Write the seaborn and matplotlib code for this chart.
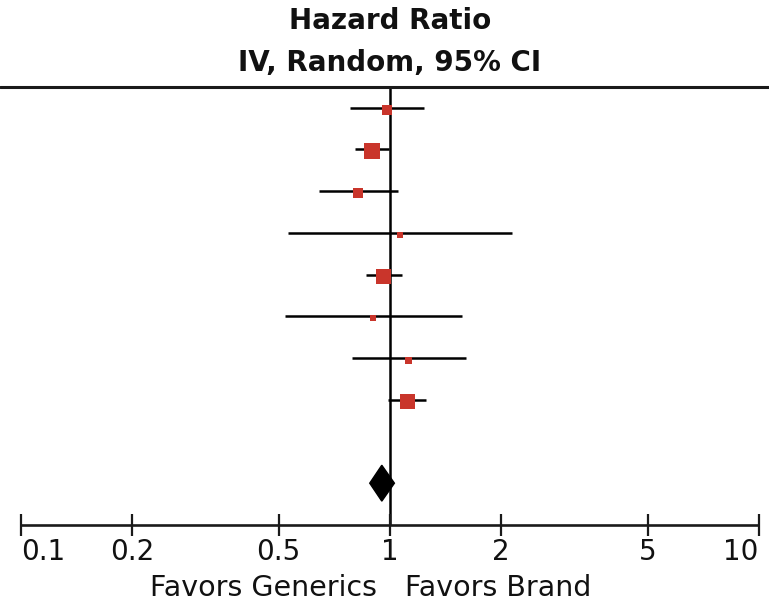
import numpy as np
import pandas as pd
import seaborn as sns
import matplotlib
matplotlib.use("Agg")
import matplotlib.pyplot as plt
from matplotlib.patches import Polygon

# ---- data ----
studies = [f"Study {i+1}" for i in range(8)]
hr = [0.985, 0.894, 0.821, 1.065, 0.964, 0.903, 1.127, 1.115]
ci_low = [0.782, 0.806, 0.643, 0.531, 0.860, 0.520, 0.790, 0.991]
ci_high = [1.237, 0.995, 1.054, 2.146, 1.083, 1.567, 1.611, 1.258]
weight = [10, 16, 10, 6, 15, 6, 7, 15]
pooled = [0.883, 0.952, 1.030]  # low, estimate, high
tick_values = [0.1, 0.2, 0.5, 1, 2, 5, 10]
tick_labels = ["0.1", "0.2", "0.5", "1", "2", "5", "10"]
title_lines = ["Hazard Ratio", "IV, Random, 95% CI"]
favors = ["Favors Generics", "Favors Brand"]

sns.set_theme(style="white")
plt.rcParams["font.family"] = ["DejaVu Sans"]

df = pd.DataFrame({"study": studies, "hr": hr, "lo": ci_low, "hi": ci_high,
                   "w": weight})
df["row"] = np.arange(len(df))
pooled_row = len(df) + 1
axis_row = pooled_row + 1

fig = plt.figure(figsize=(7.69, 6.03), dpi=100)
ax = fig.add_axes([0, 0, 1, 1])
ax.set_xscale("log")
ax.set_xlim(0.0879, 10.664)
ax.set_ylim(11.871, -2.578)
ax.axis("off")

red = "#c9352b"
# CI lines
ax.hlines(df["row"], df["lo"], df["hi"], color="black", lw=1.8, zorder=2)
# squares
sns.scatterplot(data=df, x="hr", y=df["row"] + 0.05, marker="s", color=red,
                s=(df["w"] * 0.72) ** 2, linewidth=0, ax=ax, zorder=3,
                legend=False)
# line of no effect
ax.vlines(1, -0.5, axis_row, color="black", lw=1.8, zorder=1)
# top line
ax.axhline(-0.5, color="#1a1a1a", lw=2.2, zorder=1)
# pooled diamond
lo, est, hi = pooled
h = 0.43
ax.add_patch(Polygon([(lo, pooled_row), (est, pooled_row - h), (hi, pooled_row),
                      (est, pooled_row + h)], closed=True, color="black",
                     zorder=4))
# bottom axis
ax.hlines(axis_row, tick_values[0], tick_values[-1], color="#1a1a1a", lw=1.9)
ax.vlines(tick_values, axis_row - 0.26, axis_row + 0.26, color="#1a1a1a", lw=1.6)
n = len(tick_values)
for i, (v, lab) in enumerate(zip(tick_values, tick_labels)):
    ha = "left" if i == 0 else ("right" if i == n - 1 else "center")
    ax.text(v, axis_row + 0.65, lab, ha=ha, va="center", fontsize=20,
            color="#111111")
ax.annotate(favors[0], xy=(1, axis_row + 1.51), xytext=(-13, 0),
            textcoords="offset pixels", ha="right", va="center", fontsize=20.5,
            color="#111111")
ax.annotate(favors[1], xy=(1, axis_row + 1.51), xytext=(15, 0),
            textcoords="offset pixels", ha="left", va="center", fontsize=20.5,
            color="#111111")
# titles
ax.text(1, -2.08, title_lines[0], ha="center", va="center", fontsize=20,
        fontweight="bold", color="#111111")
ax.text(1, -1.08, title_lines[1], ha="center", va="center", fontsize=20,
        fontweight="bold", color="#111111")

fig.savefig("out.png", dpi=100)
